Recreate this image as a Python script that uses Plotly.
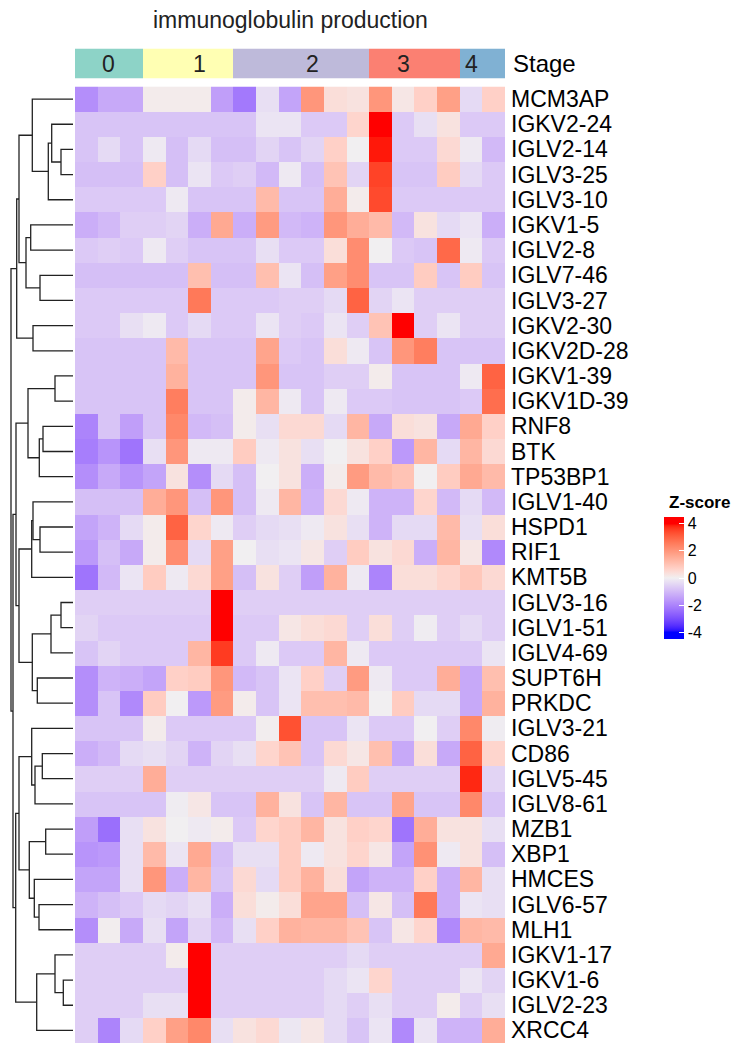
import numpy as np
import plotly.graph_objects as go

# ---------------- data ----------------
genes = ["MCM3AP", "IGKV2-24", "IGLV2-14", "IGLV3-25", "IGLV3-10", "IGKV1-5", "IGLV2-8",
         "IGLV7-46", "IGLV3-27", "IGKV2-30", "IGKV2D-28", "IGKV1-39", "IGKV1D-39", "RNF8",
         "BTK", "TP53BP1", "IGLV1-40", "HSPD1", "RIF1", "KMT5B", "IGLV3-16", "IGLV1-51",
         "IGLV4-69", "SUPT6H", "PRKDC", "IGLV3-21", "CD86", "IGLV5-45", "IGLV8-61", "MZB1",
         "XBP1", "HMCES", "IGLV6-57", "MLH1", "IGKV1-17", "IGKV1-6", "IGLV2-23", "XRCC4"]

column_stage = [0, 0, 0, 1, 1, 1, 1, 2, 2, 2, 2, 2, 2, 3, 3, 3, 3, 4, 4]
stage_names = ["0", "1", "2", "3", "4"]
stage_colors = ["#8DD3C7", "#FFFFB3", "#BEBADA", "#FB8072", "#80B1D3"]
stage_label_column = [1, 5, 10, 14, 17]

colorbar_ticks = [-4, -2, 0, 2, 4]

zscore = [
    [-1.8, -1.3, -1.3, 0.1, 0.1, 0.1, -1.5, -2.2, -0.3, -1.4, 2.0, 0.4, 0.3, 2.0, 0.2, 0.7, 1.8, -0.4, 0.7],
    [-0.8, -0.8, -0.8, -0.8, -0.8, -0.8, -0.8, -0.8, -0.2, -0.2, -0.7, -0.7, 0.6, 4.0, -0.7, -0.3, 0.3, -0.7, -0.7],
    [-0.8, -0.4, -0.8, -0.1, -0.9, -0.4, -0.9, -0.9, -0.5, -0.8, -0.5, 0.7, 0.0, 3.9, -0.7, -0.7, 0.5, -0.1, -1.0],
    [-0.9, -0.9, -0.9, 0.7, -0.9, -0.2, -0.7, -0.6, -1.0, -0.1, -0.9, 1.0, -0.5, 3.5, -0.8, -0.8, 0.8, -0.4, -0.7],
    [-0.7, -0.7, -0.7, -0.7, -0.1, -0.8, -0.8, -0.8, 1.2, -0.8, -0.8, 1.5, 0.1, 3.4, -0.7, -0.7, -0.7, -0.7, -0.7],
    [-1.2, -1.0, -0.6, -0.6, -0.5, -1.2, 1.6, -1.2, 1.9, -1.0, -1.1, 2.0, 1.5, 1.2, -1.0, 0.3, -0.4, -0.2, -1.2],
    [-0.7, -0.6, -0.7, -0.1, -0.6, -0.8, -0.8, -0.8, -0.3, -0.7, -0.7, 0.4, 2.2, 0.0, -0.7, -0.8, 2.9, -0.1, -0.7],
    [-0.9, -0.9, -0.9, -0.9, -0.9, 1.1, -0.9, -0.9, 1.1, -0.2, -0.9, 1.8, 2.2, -0.8, -0.8, 0.8, -0.8, 0.8, -0.8],
    [-0.7, -0.7, -0.7, -0.7, -0.7, 2.6, -0.7, -0.7, -0.7, -0.6, -0.6, -0.4, 3.0, -0.5, -0.2, -0.6, -0.6, -0.6, -0.6],
    [-0.7, -0.7, -0.3, -0.1, -0.7, -0.4, -0.7, -0.7, -0.2, -0.6, -0.7, -0.2, -0.6, 1.0, 4.0, -0.6, -0.2, -0.6, -0.6],
    [-0.8, -0.8, -0.8, -0.8, 1.2, -0.8, -0.8, -0.8, 1.7, -0.7, -0.8, 0.4, -0.1, -0.8, 2.0, 2.5, -0.8, -0.8, -0.8],
    [-0.8, -0.8, -0.8, -0.8, 1.4, -0.8, -0.8, -0.8, 2.0, -0.8, -0.8, -0.6, -0.6, 0.1, -0.8, -0.8, -0.8, -0.1, 3.0],
    [-0.8, -0.8, -0.8, -0.8, 2.5, -0.8, -0.8, 0.1, 1.3, -0.1, -0.8, -0.1, -0.7, -0.7, -0.8, -0.8, -0.8, -0.7, 2.8],
    [-2.0, -0.8, -1.5, -0.8, 2.3, -1.0, -0.9, 0.1, -0.3, 0.5, 0.5, -0.4, 1.3, -1.3, 0.4, 0.3, -1.3, 1.6, 0.7],
    [-2.1, -1.7, -2.3, -0.3, 2.0, -0.1, -0.1, 0.8, -0.1, 0.3, -0.3, 0.0, 0.3, 0.7, -1.6, 1.3, -0.4, 1.3, 0.5],
    [-1.8, -1.3, -1.7, -1.4, 0.3, -1.8, -0.4, -0.9, 0.0, 0.3, -1.2, 0.1, 1.9, 1.2, 1.0, 0.0, 0.8, 1.6, 1.2],
    [-0.9, -0.9, -0.9, 1.5, 2.0, -0.9, 2.0, -0.9, -0.1, 1.3, -1.1, 0.5, -0.1, -1.1, -1.1, 0.6, -1.0, -0.4, -1.0],
    [-1.4, -1.1, -0.4, 0.1, 3.0, 0.6, -0.1, -0.6, -0.4, -0.3, -0.1, 0.3, -0.3, -1.1, -0.4, -0.4, 1.2, -0.3, 0.4],
    [-1.6, -0.9, -1.3, 0.1, 2.2, -0.4, 1.8, 0.0, -0.3, -0.2, 0.2, -0.6, 0.8, 0.3, 0.5, -1.2, 1.3, 0.2, -1.9],
    [-2.3, -1.0, -0.2, 0.8, -0.1, 0.5, 1.8, -0.9, 0.3, -0.6, -1.5, 1.4, -0.1, -2.0, 0.4, 0.4, 0.6, 0.9, 0.5],
    [-0.6, -0.6, -0.6, -0.6, -0.6, -0.6, 4.0, -0.6, -0.6, -0.6, -0.6, -0.6, -0.6, -0.6, -0.6, -0.6, -0.6, -0.6, -0.6],
    [-0.5, -0.7, -0.7, -0.7, -0.7, -0.7, 4.0, -0.7, -0.7, 0.2, 0.4, 0.5, -0.6, 0.4, -0.6, -0.05, -0.6, -0.4, -0.6],
    [-0.8, -0.5, -0.7, -0.7, -0.7, 1.3, 3.6, -0.7, -0.1, -0.7, -0.7, 1.3, -0.1, -0.7, -0.7, -0.7, -0.7, -0.7, -0.2],
    [-1.8, -1.1, -1.2, -1.4, 0.7, 0.8, 2.0, -1.0, -0.8, -0.2, 0.7, -0.6, 1.9, -0.1, -0.7, -0.7, 1.5, -1.3, 1.1],
    [-1.8, -0.8, -1.9, 0.8, 0.0, -1.6, 1.9, 0.1, -0.8, -0.2, 1.1, 1.1, 1.2, 0.0, 0.8, -0.4, -0.4, -1.3, 1.4],
    [-0.8, -0.8, -0.8, 0.1, -0.7, -0.7, -0.7, -0.7, 0.05, 3.3, -0.8, -0.8, -0.2, -0.7, -0.7, 0.0, -0.6, 2.3, -0.05],
    [-1.2, -1.0, -0.4, -0.3, -0.5, -1.1, -0.5, -0.3, 0.6, 1.0, -0.8, 0.5, 0.2, 1.1, -1.3, 0.4, -1.3, 3.0, 0.6],
    [-0.6, -0.6, -0.6, 1.5, -0.6, -0.6, -0.6, -0.6, -0.6, -0.6, -0.6, -0.1, 0.8, -0.6, -0.6, -0.6, -0.6, 3.8, -0.5],
    [-0.8, -0.8, -0.8, -0.8, -0.05, 0.2, -0.8, -0.8, 1.4, 0.3, -0.8, 1.3, -0.8, -0.8, 1.7, -0.8, -0.8, 2.3, -0.8],
    [-1.5, -2.4, -0.3, 0.3, 0.0, -0.1, 0.1, -0.7, 0.6, 0.8, 1.3, 0.3, 0.7, 0.6, -2.3, 1.5, 0.3, 0.3, -0.3],
    [-1.7, -1.6, -0.3, 1.2, -0.2, 1.6, -0.9, -0.3, -0.3, 0.8, -0.1, 0.3, 0.6, 0.2, -1.4, 2.1, -0.1, 0.3, -0.9],
    [-1.4, -1.4, -0.3, 2.0, -1.2, 1.3, -0.8, 0.5, -0.4, 0.8, 1.4, 0.4, -1.4, -1.1, -1.1, 0.7, -1.2, 1.3, -0.3],
    [-1.1, -0.9, -0.7, -0.4, -0.5, -0.3, -1.2, 0.4, 0.1, 0.4, 1.7, 1.7, -0.9, 0.2, -0.9, 2.6, -1.2, -0.2, -0.3],
    [-1.8, 0.05, -1.3, -0.3, -1.4, -0.5, -1.0, -0.3, 0.7, 1.4, 1.3, 1.3, 1.0, -0.8, 0.2, 0.6, -1.9, 1.3, 1.2],
    [-0.6, -0.6, -0.6, -0.6, 0.1, 4.0, -0.6, -0.6, -0.6, -0.6, -0.6, -0.6, -0.4, -0.6, -0.6, -0.6, -0.6, -0.6, 1.6],
    [-0.6, -0.6, -0.6, -0.6, -0.6, 4.0, -0.6, -0.6, -0.6, -0.6, -0.6, -0.4, -0.2, 0.6, -0.6, -0.6, -0.6, -0.2, -0.5],
    [-0.6, -0.6, -0.6, -0.3, -0.3, 4.0, -0.6, -0.6, -0.6, -0.6, -0.6, -0.4, -0.6, -0.3, -0.6, -0.6, 0.1, -0.6, -0.3],
    [-0.6, -2.0, -0.4, 0.7, 1.8, 2.3, -0.3, 0.3, 0.5, -0.15, 0.2, -0.4, -0.8, -0.2, -1.9, -0.2, -1.1, -1.1, 1.5],
]

# row dendrogram merges: (child_a, child_b, height); ids >= 38 refer to earlier merges
merges = [
    (2, 3, 12.0), (1, 38, 21.3), (39, 4, 24.7), (0, 40, 40.7),
    (5, 6, 42.3), (7, 8, 33.0), (42, 43, 47.0), (41, 44, 54.0),
    (9, 10, 40.0), (45, 46, 56.3),
    (11, 12, 18.0), (13, 14, 30.0), (49, 15, 33.7), (48, 50, 45.0),
    (17, 18, 33.0), (16, 52, 40.0), (53, 19, 41.3),
    (20, 21, 12.0), (55, 22, 22.0), (23, 24, 35.7), (56, 57, 40.7),
    (54, 58, 54.0), (51, 59, 57.0),
    (26, 27, 30.7), (61, 28, 38.0), (25, 62, 41.3),
    (29, 30, 27.3), (32, 33, 34.0), (31, 65, 38.7), (64, 66, 43.7),
    (63, 67, 54.0),
    (35, 36, 9.7), (34, 69, 18.0), (70, 37, 36.3),
    (68, 71, 57.3), (60, 72, 60.0), (47, 73, 62.0),
]

# ---------------- colour scale (LAB interpolation blue - near white - red) ----------------
def srgb_to_lab(rgb):
    c = np.array(rgb, dtype=float) / 255.0
    c = np.where(c <= 0.04045, c / 12.92, ((c + 0.055) / 1.055) ** 2.4)
    M = np.array([[0.4124, 0.3576, 0.1805], [0.2126, 0.7152, 0.0722], [0.0193, 0.1192, 0.9505]])
    xyz = M @ c
    xyz = xyz / np.array([0.95047, 1.0, 1.08883])
    f = np.where(xyz > 0.008856, np.cbrt(xyz), 7.787 * xyz + 16 / 116)
    return np.array([116 * f[1] - 16, 500 * (f[0] - f[1]), 200 * (f[1] - f[2])])


def lab_to_srgb(lab):
    L, a, b = lab
    fy_ = (L + 16) / 116
    fx_ = fy_ + a / 500
    fz_ = fy_ - b / 200
    f = np.array([fx_, fy_, fz_])
    xyz = np.where(f ** 3 > 0.008856, f ** 3, (f - 16 / 116) / 7.787)
    xyz = xyz * np.array([0.95047, 1.0, 1.08883])
    Minv = np.array([[3.2406, -1.5372, -0.4986], [-0.9689, 1.8758, 0.0415], [0.0557, -0.2040, 1.0570]])
    c = Minv @ xyz
    c = np.clip(c, 0, 1)
    c = np.where(c <= 0.0031308, 12.92 * c, 1.055 * c ** (1 / 2.4) - 0.055)
    c = np.clip(np.round(c * 255), 0, 255).astype(int)
    return "rgb(%d,%d,%d)" % tuple(c)


lab_blue = srgb_to_lab([0, 0, 255])
lab_mid = srgb_to_lab([241, 239, 241])
lab_red = srgb_to_lab([255, 0, 0])

ZMIN, ZMAX = -4.5, 4.5


def value_colour(v):
    v = max(-4.0, min(4.0, v))
    if v < 0:
        lab = lab_mid + (lab_blue - lab_mid) * (-v / 4.0)
    else:
        lab = lab_mid + (lab_red - lab_mid) * (v / 4.0)
    return lab_to_srgb(lab)


colorscale = []
for v in np.linspace(ZMIN, ZMAX, 73):
    colorscale.append([(v - ZMIN) / (ZMAX - ZMIN), value_colour(v)])

stage_scale = []
n_st = len(stage_colors)
for i, c in enumerate(stage_colors):
    stage_scale.append([i / n_st, c])
    stage_scale.append([(i + 1) / n_st, c])

# ---------------- layout geometry (page px; body margin removed by post_script) ----------------
W, H = 744, 1050
hm_left, hm_right = 75, 505
hm_top, hm_bottom = 86.5, 1043
st_top, st_bottom = 48.5, 78.5
FONT = "Liberation Sans, Arial, Helvetica, sans-serif"


def fx(px):
    return px / W


def fy(px):
    return 1 - px / H


n_rows = len(genes)
n_cols = len(column_stage)

fig = go.Figure()

fig.add_trace(go.Heatmap(
    z=zscore, x=list(range(n_cols)), y=list(range(n_rows)),
    colorscale=colorscale, zmin=ZMIN, zmax=ZMAX, hoverinfo="skip",
    colorbar=dict(
        tickvals=colorbar_ticks, ticktext=[str(t) for t in colorbar_ticks],
        tickfont=dict(size=16, color="black", family=FONT),
        ticks="inside", ticklen=5, tickcolor="white", tickwidth=1,
        outlinewidth=0, thickness=20, lenmode="pixels", len=122,
        x=fx(664), xanchor="left", xpad=0, y=fy(578), yanchor="middle", ypad=0,
    ),
    xaxis="x", yaxis="y",
))

fig.add_trace(go.Heatmap(
    z=[column_stage], x=list(range(n_cols)), y=[0],
    colorscale=stage_scale, zmin=-0.5, zmax=n_st - 0.5, showscale=False,
    hoverinfo="skip", xaxis="x", yaxis="y2",
))

# dendrogram lines
node_y = {i: float(i) for i in range(n_rows)}
node_h = {i: 0.0 for i in range(n_rows)}
dx, dy = [], []
for k, (a, b, h) in enumerate(merges):
    nid = n_rows + k
    dx += [node_h[a], h, h, node_h[b], None]
    dy += [node_y[a], node_y[a], node_y[b], node_y[b], None]
    node_y[nid] = (node_y[a] + node_y[b]) / 2
    node_h[nid] = h

fig.add_trace(go.Scatter(
    x=dx, y=dy, mode="lines", line=dict(color="#222222", width=1.3),
    hoverinfo="skip", showlegend=False, xaxis="x2", yaxis="y",
))

annotations = [
    dict(text="immunoglobulin production", x=fx((hm_left + hm_right) / 2), y=fy(20),
         xref="paper", yref="paper", showarrow=False, xanchor="center", yanchor="middle",
         font=dict(size=23, color="#222222", family=FONT)),
    dict(text="Stage", x=fx(511), y=0, xref="paper", yref="y2", showarrow=False,
         xanchor="left", yanchor="middle", font=dict(size=24, color="black", family=FONT)),
    dict(text="<b>Z-score</b>", x=fx(667), y=fy(502), xref="paper", yref="paper",
         showarrow=False, xanchor="left", yanchor="middle",
         font=dict(size=17, color="black", family=FONT)),
]
for name, col in zip(stage_names, stage_label_column):
    annotations.append(dict(text=name, x=col, y=0, xref="x", yref="y2", showarrow=False,
                            xanchor="center", yanchor="middle",
                            font=dict(size=23, color="#222222", family=FONT)))

fig.update_layout(
    width=W, height=H, margin=dict(l=0, r=0, t=0, b=0),
    paper_bgcolor="white", plot_bgcolor="white", showlegend=False,
    font=dict(family=FONT, color="black"),
    xaxis=dict(domain=[fx(hm_left), fx(hm_right)], range=[-0.5, n_cols - 0.5],
               visible=False, anchor="y"),
    yaxis=dict(domain=[fy(hm_bottom), fy(hm_top)], range=[n_rows - 0.5, -0.5],
               side="right", anchor="x", tickvals=list(range(n_rows)), ticktext=genes,
               ticks="", showgrid=False, zeroline=False, showline=False,
               ticklabelstandoff=5,
               tickfont=dict(size=23, color="black", family=FONT)),
    yaxis2=dict(domain=[fy(st_bottom), fy(st_top)], range=[-0.5, 0.5], visible=False, anchor="x"),
    xaxis2=dict(domain=[0, fx(hm_left)], range=[73, -2], visible=False, anchor="y"),
    annotations=annotations,
)

fig.write_html("out.html", config={"displayModeBar": False},
               post_script="document.body.style.margin='0px';document.body.style.padding='0px';")
